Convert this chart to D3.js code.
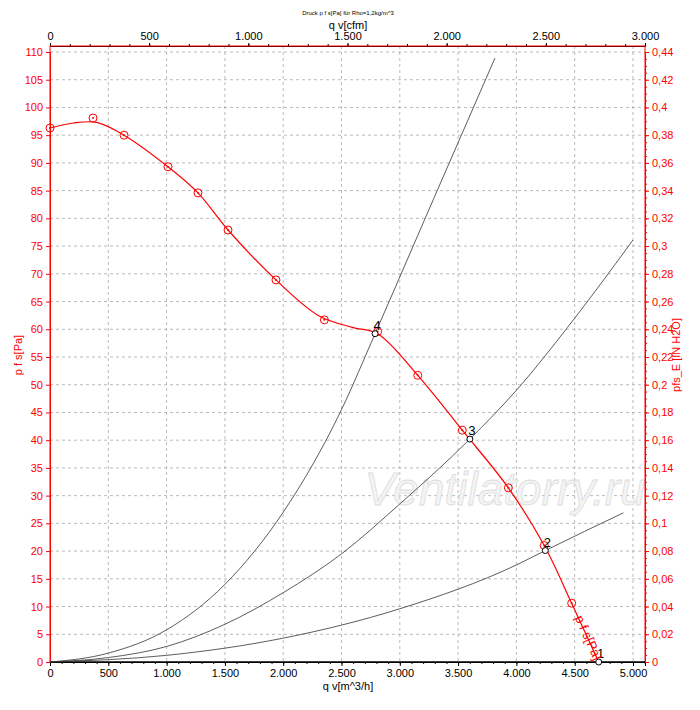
<!DOCTYPE html>
<html>
<head>
<script src="https://d3js.org/d3.v7.min.js"></script>
<style>body{margin:0;background:#fff}text{font-family:"Liberation Sans",Arial,sans-serif}</style>
</head>
<body>
<div id="chart"></div>
<script>
// fan curve (line) and measured points
const fanLine = [[0,96.3],[200,97.2],[400,97.3],[635,95],[1012,89.3],[1269,84.6],[1527,77.9],[1938,68.9],[2300,62.5],[2600,60.3],[2810,59.2],[3154,51.7],[3536,41.8],[3931,31.4],[4239,21],[4474,10.6],[4706,0]];
const fanMarks = [[0,96.3],[369,98.1],[635,95],[1012,89.3],[1269,84.6],[1527,77.9],[1938,68.9],[2353,61.7],[2810,59.6],[3154,51.7],[3536,41.8],[3931,31.4],[4239,21],[4474,10.6]];
// system curves
const sysA = [[0,0],[500,1.6],[1000,5.8],[1500,14],[2000,27],[2500,45.5],[2788,59.2],[3300,84],[3816,108.9]];
const sysB = [[0,0],[500,0.8],[1000,2.8],[1500,6.8],[2000,12.5],[2500,19.5],[3000,28.5],[3601,40.2],[4000,49],[4500,62],[5000,76.1]];
const sysC = [[0,0],[1000,1.2],[2000,4.3],[3000,9.6],[4000,17.5],[4248,20.1],[4918,26.9]];
const opPoints = [["1",4706,0],["2",4248,20.1],["3",3601,40.2],["4",2788,59.2]];
const xTicks = [0,500,1000,1500,2000,2500,3000,3500,4000,4500,5000];
const cfmTicks = [0,500,1000,1500,2000,2500,3000];
const yTicks = d3.range(0,111,5);
const inTicks = d3.range(0,0.4401,0.02);

const W = 700, H = 710;
const L = 50, R = 645, T = 46, B = 662;
const svg = d3.select("#chart").append("svg").attr("width",W).attr("height",H);

const x = d3.scaleLinear().domain([0,5103]).range([L,R]);
const xc = d3.scaleLinear().domain([0,3000]).range([L,R]);
const y = d3.scaleLinear().domain([0,110]).range([B,52]);
const yi = d3.scaleLinear().domain([0,0.44]).range([B,52]);
const de = d3.formatLocale({decimal:",",thousands:".",grouping:[3],currency:["",""]});
const fx = de.format(",d"), fi = v => v===0 ? "0" : de.format(",.2~f")(v);

// grid
const g = svg.append("g").attr("stroke","#aaa").attr("stroke-dasharray","3,3").attr("stroke-width",0.8);
xTicks.slice(1).forEach(t => g.append("line").attr("x1",x(t)).attr("x2",x(t)).attr("y1",T).attr("y2",B));
yTicks.slice(1).forEach(t => g.append("line").attr("x1",L).attr("x2",R).attr("y1",y(t)).attr("y2",y(t)));

// watermark
svg.append("text").attr("x",505).attr("y",505).attr("text-anchor","middle").attr("font-size",46)
  .attr("font-style","italic").attr("fill","#f4f4f4").attr("stroke","#ddd").attr("stroke-width",0.8).text("Ventilatorry.ru");

// axes
const ax = (sel, axis, color) => { sel.call(axis); sel.selectAll("path,line").attr("stroke",color); sel.selectAll("text").attr("fill",color).attr("font-size",11).attr("font-family","Liberation Sans, Arial"); };
ax(svg.append("g").attr("transform",`translate(0,${B})`), d3.axisBottom(x).tickValues(xTicks).tickFormat(fx).tickSizeOuter(0).tickSize(4), "#000");
svg.append("g").attr("transform",`translate(0,${B})`).call(d3.axisBottom(x).tickValues(d3.range(0,5101,100)).tickFormat("").tickSize(2)).call(s=>s.select("path").remove());
ax(svg.append("g").attr("transform",`translate(0,${T})`), d3.axisTop(xc).tickValues(cfmTicks).tickFormat(fx).tickSizeOuter(0).tickSize(3), "#000");
svg.append("g").attr("transform",`translate(0,${T})`).call(d3.axisTop(xc).tickValues(d3.range(0,3001,100)).tickFormat("").tickSize(2)).call(s=>s.select("path").remove());
svg.append("line").attr("x1",L).attr("x2",R).attr("y1",T).attr("y2",T).attr("stroke","red");
ax(svg.append("g").attr("transform",`translate(${L},0)`), d3.axisLeft(y).tickValues(yTicks).tickSizeOuter(0).tickSize(4), "red");
svg.append("line").attr("x1",L).attr("x2",L).attr("y1",T).attr("y2",B).attr("stroke","red");
ax(svg.append("g").attr("transform",`translate(${R},0)`), d3.axisRight(yi).tickValues(inTicks).tickFormat(fi).tickSizeOuter(0).tickSize(4), "red");
svg.append("g").attr("transform",`translate(${R},0)`).call(d3.axisRight(yi).tickValues(d3.range(0,0.4401,0.005)).tickFormat("").tickSize(2)).call(s=>{s.select("path").remove();s.selectAll("line").attr("stroke","red");});
svg.append("line").attr("x1",R).attr("x2",R).attr("y1",T).attr("y2",B).attr("stroke","red");
svg.append("line").attr("x1",L).attr("x2",R).attr("y1",B).attr("y2",B).attr("stroke","#000").attr("stroke-width",1.5);

// titles
svg.append("text").attr("x",348).attr("y",15).attr("text-anchor","middle").attr("font-size",6).text("Druck p f s[Pa] für Rho=1,2kg/m^3");
svg.append("text").attr("x",348).attr("y",29).attr("text-anchor","middle").attr("font-size",11).text("q v[cfm]");
svg.append("text").attr("x",348).attr("y",690).attr("text-anchor","middle").attr("font-size",11).text("q v[m^3/h]");
svg.append("text").attr("transform","translate(22,355) rotate(-90)").attr("text-anchor","middle").attr("font-size",11).attr("fill","red").text("p f s[Pa]");
svg.append("text").attr("transform","translate(680,355) rotate(-90)").attr("text-anchor","middle").attr("font-size",11).attr("fill","red").text("pfs_E [IN H2O]");

// curves
const line = d3.line().x(d=>x(d[0])).y(d=>y(d[1])).curve(d3.curveMonotoneX);
[sysA,sysB,sysC].forEach(s => svg.append("path").attr("d",line(s)).attr("fill","none").attr("stroke","#333").attr("stroke-width",0.8));
svg.append("path").attr("d",d3.line().x(d=>x(d[0])).y(d=>y(d[1])).curve(d3.curveCatmullRom)(fanLine)).attr("fill","none").attr("stroke","red").attr("stroke-width",1.2);
fanMarks.forEach(d => {
  svg.append("circle").attr("cx",x(d[0])).attr("cy",y(d[1])).attr("r",4).attr("fill","none").attr("stroke","red");
  svg.append("circle").attr("cx",x(d[0])).attr("cy",y(d[1])).attr("r",1).attr("fill","red");
});
opPoints.forEach(d => {
  svg.append("circle").attr("cx",x(d[1])).attr("cy",y(d[2])).attr("r",3).attr("fill","#fff").attr("stroke","#000");
  svg.append("text").attr("x",x(d[1])+2).attr("y",y(d[2])-4).attr("text-anchor","middle").attr("font-size",13).text(d[0]);
});
svg.append("text").attr("transform",`translate(${x(4500)},${y(8)}) rotate(66)`).attr("font-size",13).attr("fill","red").text("p f s[Pa]");
</script>
</body>
</html>
